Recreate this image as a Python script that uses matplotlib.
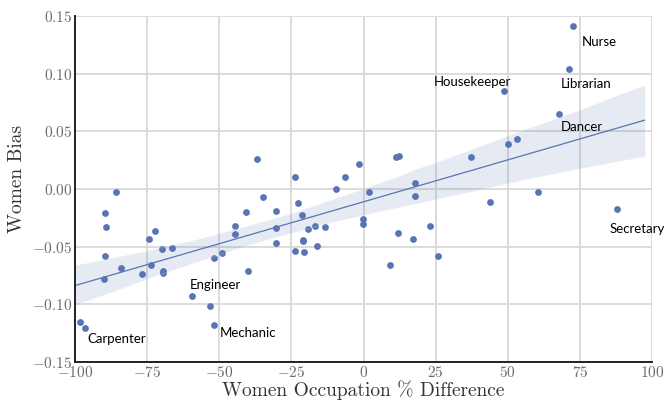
import numpy as np
import matplotlib
matplotlib.use("Agg")
import matplotlib.pyplot as plt
import seaborn as sns
from matplotlib.ticker import FuncFormatter

# -------------------------------------------------------
# Data: occupation % difference vs women bias
# -------------------------------------------------------
occ_diff = [-98.3, -96.4, -90.1, -89.7, -89.5, -89.2, -85.9, -84.2, -76.7, -74.5,
            -73.6, -72.4, -69.9, -69.4, -69.4, -66.3, -59.3, -53.3, -52.0, -51.7,
            -49.2, -44.5, -44.5, -40.7, -40.2, -36.9, -34.8, -30.2, -30.2, -30.2,
            -23.9, -23.9, -22.6, -21.2, -20.9, -20.9, -20.5, -19.3, -16.8, -16.0,
            -13.3, -9.6, -6.3, -1.5, -0.3, -0.3, 1.8, 9.1, 11.3, 12.2,
            11.8, 17.2, 17.7, 17.8, 23.1, 25.9, 37.2, 43.8, 48.7, 50.2,
            53.3, 60.4, 67.8, 71.1, 72.6, 87.9]
bias = [-0.1156, -0.1206, -0.0781, -0.0584, -0.0211, -0.0327, -0.0030, -0.0685, -0.0735, -0.0436,
        -0.0662, -0.0362, -0.0520, -0.0711, -0.0729, -0.0514, -0.0932, -0.1017, -0.1175, -0.0596,
        -0.0555, -0.0325, -0.0388, -0.0201, -0.0709, 0.0256, -0.0069, -0.0188, -0.0338, -0.0470,
        0.0101, -0.0539, -0.0124, -0.0225, -0.0438, -0.0451, -0.0545, -0.0344, -0.0323, -0.0494,
        -0.0331, -0.0004, 0.0101, 0.0220, -0.0260, -0.0305, -0.0030, -0.0657, 0.0276, 0.0289,
        -0.0384, -0.0435, 0.0055, -0.0058, -0.0324, -0.0578, 0.0278, -0.0110, 0.0853, 0.0390,
        0.0436, -0.0026, 0.0650, 0.1038, 0.1411, -0.0173]

# labelled occupations and where their text sits
label_names = ["Nurse", "Librarian", "Housekeeper", "Dancer",
               "Engineer", "Carpenter", "Mechanic", "Secretary"]
label_x = [75.6, 68.4, 24.3, 68.4, -60.1, -95.6, -49.8, 85.4]
label_y = [0.1278, 0.0908, 0.0930, 0.0540, -0.0830, -0.1298, -0.1246, -0.0347]

x_ticks = [-100, -75, -50, -25, 0, 25, 50, 75, 100]
y_ticks = [-0.15, -0.10, -0.05, 0.00, 0.05, 0.10, 0.15]

# -------------------------------------------------------
# Style
# -------------------------------------------------------
sns.set_style("whitegrid")
plt.rcParams["mathtext.fontset"] = "cm"
plt.rcParams["font.family"] = ["DejaVu Sans"]

dot_color = "#5874b5"

fig = plt.figure(figsize=(6.64, 4.0), dpi=100)
ax = fig.add_axes([0.113, 0.095, 0.869, 0.865])

# regression line spans slightly short of the right edge, as in the source
ax.set_xlim(-100, 97.5)
sns.regplot(x=np.array(occ_diff), y=np.array(bias), ax=ax, truncate=False,
            color=dot_color, seed=3,
            scatter_kws={"s": 24, "alpha": 1, "linewidths": 0},
            line_kws={"linewidth": 0.9})

ax.set_xlim(-100, 100)
ax.set_ylim(-0.15, 0.15)
ax.set_xticks(x_ticks)
ax.set_yticks(y_ticks)
ax.xaxis.set_major_formatter(FuncFormatter(lambda v, p: f"${v:.0f}$"))
ax.yaxis.set_major_formatter(FuncFormatter(lambda v, p: f"${v:.2f}$"))
ax.tick_params(axis="both", length=0, labelsize=11, labelcolor="#6b6b6b", pad=2)

ax.grid(True, color="#d6d6d6", linewidth=1.2)
for side in ["top", "right"]:
    ax.spines[side].set_visible(False)
for side in ["left", "bottom"]:
    ax.spines[side].set_color("#222222")
    ax.spines[side].set_linewidth(1.4)

ax.set_xlabel("Women Occupation % Difference", fontsize=14, family="cmr10",
              color="#333333")
ax.set_ylabel("Women Bias", fontsize=14, family="cmr10", color="#333333")
ax.xaxis.set_label_coords(0.5, -0.053, transform=ax.transAxes)
ax.xaxis.label.set_va("top")
ax.yaxis.set_label_coords(-0.085, 0.53)

for name, lx, ly in zip(label_names, label_x, label_y):
    ax.text(lx, ly, name, fontsize=9.5, family="Lato", color="black",
            ha="left", va="center", clip_on=False)

fig.savefig("out.png", dpi=100)
